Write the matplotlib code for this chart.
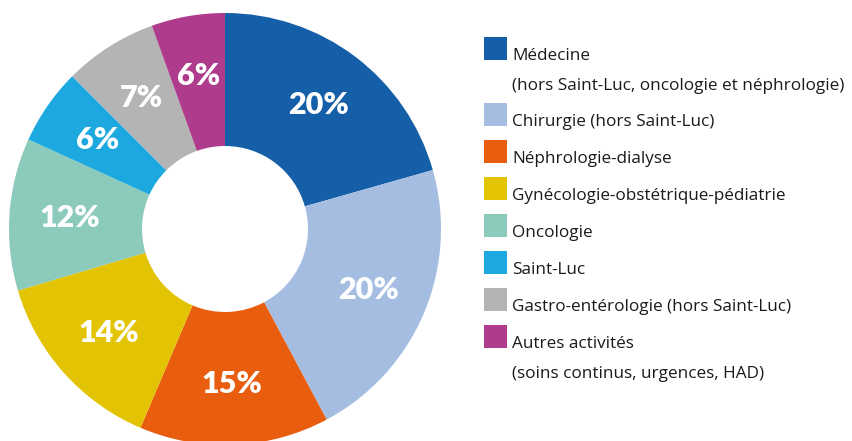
import matplotlib
matplotlib.use("Agg")
import numpy as np
import matplotlib.pyplot as plt
from matplotlib.patches import Rectangle

# -----------------------
# DATA
# -----------------------
categories = [
    "Médecine\n(hors Saint-Luc, oncologie et néphrologie)",
    "Chirurgie (hors Saint-Luc)",
    "Néphrologie-dialyse",
    "Gynécologie-obstétrique-pédiatrie",
    "Oncologie",
    "Saint-Luc",
    "Gastro-entérologie (hors Saint-Luc)",
    "Autres activités\n(soins continus, urgences, HAD)",
]
# slice shares as drawn in the picture
shares = [20.6, 21.6, 14.2, 14.0, 11.4, 5.7, 7.0, 5.5]
# printed labels
pct_labels = ["20%", "20%", "15%", "14%", "12%", "6%", "7%", "6%"]
colors = ["#155ea8", "#a6bde2", "#e85d0e", "#e2c404",
          "#8ccabb", "#1da8e0", "#b4b4b4", "#ae3b8b"]

W, H = 853, 441
fig = plt.figure(figsize=(W / 100, H / 100), dpi=100)

# -----------------------
# DONUT
# -----------------------
cx, cy, r_out, r_in = 225, 229, 216, 83
ax = fig.add_axes([(cx - r_out) / W, (H - cy - r_out) / H, 2 * r_out / W, 2 * r_out / H])
wedges, _ = ax.pie(shares, colors=colors, startangle=90, counterclock=False,
                   wedgeprops=dict(width=1 - r_in / r_out, linewidth=0))
ax.set_xlim(-1, 1)
ax.set_ylim(-1, 1)
ax.set_aspect("equal")
ax.axis("off")

label_r = 0.72
for w, lab in zip(wedges, pct_labels):
    mid = np.deg2rad((w.theta1 + w.theta2) / 2)
    ax.text(label_r * np.cos(mid), label_r * np.sin(mid), lab,
            ha="center", va="center", color="white",
            fontsize=22, fontweight="heavy", family="Lato")

# -----------------------
# LEGEND (drawn by hand)
# -----------------------
lax = fig.add_axes([0, 0, 1, 1])
lax.set_xlim(0, W)
lax.set_ylim(H, 0)
lax.axis("off")

y = 37
for lab, col in zip(categories, colors):
    lax.add_patch(Rectangle((484, y), 23, 23, color=col, lw=0))
    lines = lab.split("\n")
    for k, line in enumerate(lines):
        lax.text(512, y + 23 + 30 * k, line, ha="left", va="baseline",
                 fontsize=12.3, color="#1a1a1a", family="Open Sans")
    y += 37 + 29 * (len(lines) - 1)

fig.savefig("out.png", dpi=100)
